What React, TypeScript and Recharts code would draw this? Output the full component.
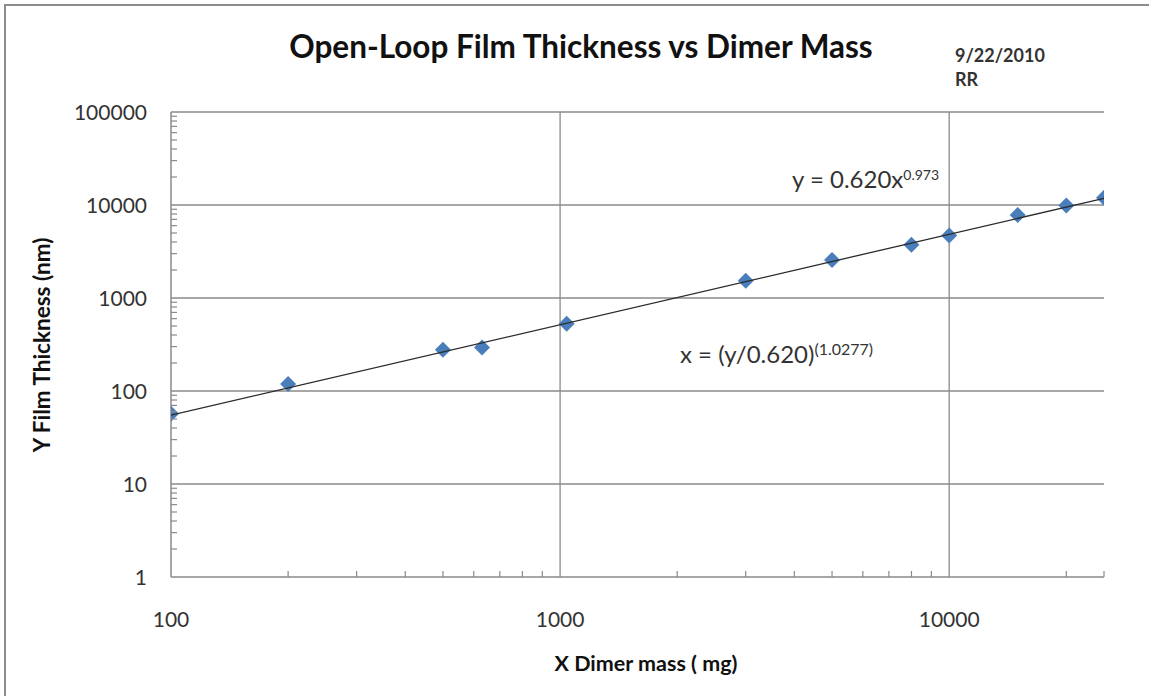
import { ScatterChart, Scatter, XAxis, YAxis, ReferenceLine } from "recharts"

const massMg = [100, 200, 500, 630, 1040, 3000, 5000, 8000, 10000, 15000, 20000, 25000]
const thicknessNm = [57, 119, 277, 294, 528, 1530, 2570, 3730, 4700, 7820, 9850, 12000]

// trend line ends
const trendMass = [100, 25000]
const trendThick = [55, 11800]

const xMajor = [100, 1000, 10000]
const xMinor = [200, 300, 400, 500, 600, 700, 800, 900, 2000, 3000, 4000, 5000, 6000, 7000, 8000, 9000, 20000, 25000]
const yMajor = [1, 10, 100, 1000, 10000, 100000]
const yMinor = [1, 10, 100, 1000, 10000].flatMap((d) => [2, 3, 4, 5, 6, 7, 8, 9].map((m) => m * d))

const points = massMg.map((x, i) => ({ x, y: thicknessNm[i] }))
const trend = trendMass.map((x, i) => ({ x, y: trendThick[i] }))

const FONT = "Lato, 'Liberation Sans', sans-serif"
const GRID = "#8a8a8a"
const TEXT = "#333"

const XTick = (props: any) => {
  const { x, y, payload } = props
  if (xMajor.includes(payload.value)) {
    return (
      <text x={x} y={y + 50} textAnchor="middle" fontSize={21} fontFamily={FONT} fill={TEXT}>
        {payload.value}
      </text>
    )
  }
  return <line x1={x} y1={y} x2={x} y2={y - 6} stroke={GRID} strokeWidth={1.2} />
}

const YTick = (props: any) => {
  const { x, y, payload } = props
  if (yMajor.includes(payload.value)) {
    return (
      <text x={x - 24} y={y + 8} textAnchor="end" fontSize={21} fontFamily={FONT} fill={TEXT}>
        {payload.value}
      </text>
    )
  }
  return <line x1={x} y1={y} x2={x + 6} y2={y} stroke={GRID} strokeWidth={1.2} />
}

const Diamond = (props: any) => {
  const { cx, cy } = props
  const r = 8
  return <polygon points={`${cx},${cy - r} ${cx + r},${cy} ${cx},${cy + r} ${cx - r},${cy}`} fill="#4a7ebb" />
}

const abs = (left: number, top: number, extra: any = {}) => ({
  position: "absolute" as const,
  left,
  top,
  whiteSpace: "nowrap" as const,
  lineHeight: 1,
  fontFamily: FONT,
  color: TEXT,
  ...extra,
})

export default function App() {
  return (
    <div style={{ position: "absolute", left: 0, top: 0, width: 1149, height: 696, background: "#fff" }}>
      <div style={{ position: "absolute", left: 4, top: 4, right: 0, bottom: 0, borderTop: "2px solid #8c8c8c", borderLeft: "2px solid #8c8c8c" }} />
      <ScatterChart width={1149} height={696} margin={{ top: 112, right: 45, bottom: 0, left: 0 }}>
        <XAxis
          type="number"
          dataKey="x"
          scale="log"
          domain={[100, 25000]}
          ticks={[...xMajor, ...xMinor]}
          interval={0}
          allowDataOverflow
          height={119}
          tickLine={false}
          tickSize={0}
          tickMargin={0}
          tick={<XTick />}
          axisLine={{ stroke: GRID, strokeWidth: 1.5 }}
        />
        <YAxis
          type="number"
          dataKey="y"
          scale="log"
          domain={[1, 100000]}
          ticks={[...yMajor, ...yMinor]}
          interval={0}
          allowDataOverflow
          width={171}
          tickLine={false}
          tickSize={0}
          tickMargin={0}
          tick={<YTick />}
          axisLine={{ stroke: GRID, strokeWidth: 1.5 }}
        />
        {yMajor.slice(1).map((v) => (
          <ReferenceLine key={"h" + v} y={v} stroke={GRID} strokeWidth={1.3} />
        ))}
        {xMajor.slice(1).map((v) => (
          <ReferenceLine key={"v" + v} x={v} stroke={GRID} strokeWidth={1.3} />
        ))}
        <Scatter data={points} shape={<Diamond />} isAnimationActive={false} />
        <Scatter data={trend} line={{ stroke: "#2a2a2a", strokeWidth: 1.3 }} shape={() => <g />} isAnimationActive={false} />
      </ScatterChart>

      <div style={abs(581, 31, { transform: "translateX(-50%)", fontSize: 31.5, fontWeight: 700, color: "#111" })}>
        Open-Loop Film Thickness vs Dimer Mass
      </div>
      <div style={abs(955, 43, { fontSize: 18, fontWeight: 700, lineHeight: "24px" })}>
        9/22/2010
        <br />
        RR
      </div>
      <div style={abs(792, 167, { fontSize: 24 })}>
        y = 0.620x<sup style={{ fontSize: 14, verticalAlign: "8px" }}>0.973</sup>
      </div>
      <div style={abs(680, 341, { fontSize: 24 })}>
        x = (y/0.620)<sup style={{ fontSize: 16, verticalAlign: "8px" }}>(1.0277)</sup>
      </div>
      <div style={abs(42, 345, { transform: "translate(-50%, -50%) rotate(-90deg)", fontSize: 22.5, fontWeight: 700, color: "#111" })}>
        Y Film Thickness (nm)
      </div>
      <div style={abs(646, 653, { transform: "translateX(-50%)", fontSize: 21.5, fontWeight: 700, color: "#111" })}>
        X Dimer mass ( mg)
      </div>
    </div>
  )
}
